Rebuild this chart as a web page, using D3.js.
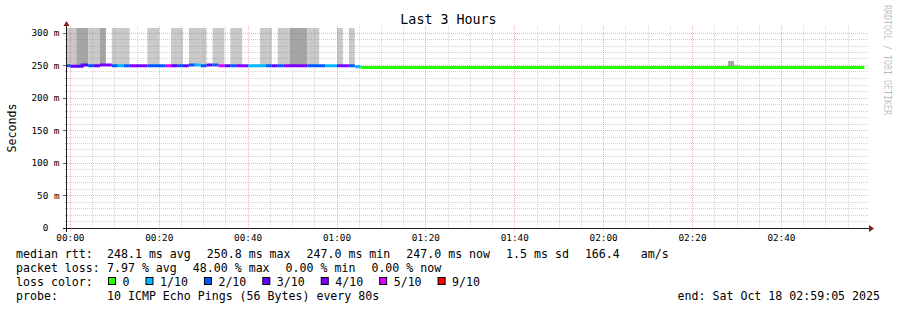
<!DOCTYPE html>
<html>
<head>
<meta charset="utf-8">
<script src="https://d3js.org/d3.v7.min.js"></script>
<style>
  body { margin: 0; background: #fff; }
  svg { display: block; font-family: "DejaVu Sans Mono", monospace; }
</style>
</head>
<body>
<script>
const title = "Last 3 Hours";
const yTitle = "Seconds";
const endLabel = "end: Sat Oct 18 02:59:05 2025";
const probeText = "10 ICMP Echo Pings (56 Bytes) every 80s";

// visible window (UTC) and the 80 s rrd step, steps counted from 00:00:00
const viewStart = Date.UTC(2025, 9, 17, 23, 59, 15);
const viewEnd = Date.UTC(2025, 9, 18, 2, 59, 15);
const midnight = Date.UTC(2025, 9, 18, 0, 0, 0);
const stepSec = 80;

// loss legend
const lossLevels = [0, 1, 2, 3, 4, 5, 9];
const lossLabels = ["0", "1/10", "2/10", "3/10", "4/10", "5/10", "9/10"];
const lossColors = ["#26ff00", "#00b8ff", "#0059ff", "#5e00ff", "#7e00ff", "#dd00ff", "#ff0000"];

// median rtt (ms) and lost pings per step, from step -1 (23:58:40) to step 48
const firstStep = -1;
const earlyMedianMs = [
  249.6, 249.0, 249.0, 250.8, 249.6, 249.6, 250.8, 250.8, 249.6, 249.6,
  249.6, 249.6, 249.6, 249.6, 249.6, 249.6, 249.6, 249.6, 249.6, 249.6,
  249.6, 250.8, 250.8, 249.6, 250.8, 250.8, 249.6, 249.6, 249.6, 249.6,
  249.6, 249.6, 249.6, 249.6, 249.6, 249.6, 249.6, 249.6, 249.6, 249.6,
  249.6, 249.6, 249.6, 249.6, 249.6, 249.6, 249.6, 249.6, 249.6, 248.2
];
const earlyLoss = [
  2, 3, 3, 3, 2, 3, 4, 4, 2, 1,
  2, 4, 4, 4, 2, 2, 2, 5, 3, 2,
  3, 2, 1, 2, 3, 2, 5, 3, 2, 4,
  4, 1, 1, 1, 2, 3, 2, 4, 4, 4,
  4, 2, 2, 2, 1, 1, 4, 4, 2, 1
];
// after the loss period: steady median, no loss
const lateFirstStep = 49;
const lateLastStep = 133;
const lateMedianMs = 247.0;
const lateLoss = 0;

// smoke: [first step, last step, low ms, high ms, density 1 light / 2 dark]
const smokeRuns = [
  [-1, 0, 250, 330, 1], [1, 2, 250, 330, 2], [3, 4, 250, 330, 1], [5, 5, 250, 330, 2],
  [7, 9, 250, 330, 1], [13, 14, 250, 330, 1], [17, 18, 250, 330, 1], [20, 22, 250, 330, 1],
  [24, 25, 250, 330, 1], [27, 28, 250, 330, 1], [32, 33, 250, 330, 1], [35, 36, 250, 330, 1],
  [37, 39, 250, 330, 2], [40, 41, 250, 330, 1], [45, 45, 250, 330, 1], [47, 47, 250, 330, 1],
  [111, 111, 247, 257, 2], [112, 112, 247, 251.2, 1]
];

const yTicks = [0, 50, 100, 150, 200, 250, 300];
const yMinorTicks = d3.range(10, 301, 10);

const statsRtt = ["median rtt:", "248.1 ms avg", "250.8 ms max", "247.0 ms min", "247.0 ms now", "1.5 ms sd", "166.4   am/s"];
const statsLoss = ["packet loss:", "7.97 % avg", "48.00 % max", "0.00 % min", "0.00 % now"];

const W = 897, H = 310;
const X0 = 67, Y0 = 228, XS = 800, YS = 200;

const svg = d3.select("body").append("svg")
  .attr("width", W)
  .attr("height", H);

svg.append("rect").attr("width", W).attr("height", H).attr("fill", "#fff");

const x = d3.scaleUtc().domain([viewStart, viewEnd]).range([X0, X0 + XS]);
const y = d3.scaleLinear().domain([0, 300]).range([Y0, Y0 - 195]);
const stepTime = k => new Date(midnight + k * stepSec * 1000);
const lossColor = l => lossColors[d3.bisectRight(lossLevels, l) - 1];
const snap = v => Math.floor(v) + 0.5;

svg.append("clipPath").attr("id", "plot")
  .append("rect").attr("x", X0).attr("y", Y0 - YS).attr("width", XS).attr("height", YS);

// smoke
const smokeFill = { 1: "#c9c9c9", 2: "#a5a5a5" };
svg.append("g").attr("clip-path", "url(#plot)")
  .selectAll("rect")
  .data(smokeRuns)
  .join("rect")
  .attr("x", d => x(stepTime(d[0])))
  .attr("width", d => x(stepTime(d[1] + 1)) - x(stepTime(d[0])))
  .attr("y", d => y(d[3]))
  .attr("height", d => y(d[2]) - y(d[3]))
  .attr("fill", d => smokeFill[d[4]]);

// grid
const gridMinor = "rgba(143,143,143,0.38)";
const gridMajor = "rgba(222,79,79,0.45)";
const grid = svg.append("g").attr("shape-rendering", "crispEdges");

const minutes = d3.utcMinute.every(5).range(new Date(viewStart), new Date(viewEnd));
minutes.forEach(t => {
  const major = t.getUTCMinutes() % 20 === 0;
  const xx = snap(x(t));
  grid.append("line")
    .attr("x1", xx).attr("x2", xx)
    .attr("y1", Y0 - YS - 2).attr("y2", Y0 + (major ? 3 : 2))
    .attr("stroke", major ? gridMajor : gridMinor)
    .attr("stroke-dasharray", "1,1");
});

yMinorTicks.forEach(v => {
  const major = v % 50 === 0;
  const yy = snap(y(v));
  grid.append("line")
    .attr("x1", X0 - 2).attr("x2", X0 + XS + 2)
    .attr("y1", yy).attr("y2", yy)
    .attr("stroke", major ? gridMajor : gridMinor)
    .attr("stroke-dasharray", "1,1");
  grid.append("line")
    .attr("x1", X0 - (major ? 4 : 2)).attr("x2", X0)
    .attr("y1", yy).attr("y2", yy)
    .attr("stroke", major ? "#666" : "#bbb");
});

// median line, one path per run of equal loss
const medianSteps = earlyMedianMs.map((ms, i) => ({ step: firstStep + i, ms, loss: earlyLoss[i] }));
const runs = [];
medianSteps.forEach(d => {
  const last = runs[runs.length - 1];
  if (last && last.loss === d.loss) last.steps.push(d);
  else runs.push({ loss: d.loss, steps: [d] });
});
runs.push({ loss: lateLoss, steps: [{ step: lateFirstStep, ms: lateMedianMs }, { step: lateLastStep, ms: lateMedianMs }] });

const line = d3.line().curve(d3.curveStepAfter);
svg.append("g").attr("clip-path", "url(#plot)")
  .selectAll("path")
  .data(runs)
  .join("path")
  .attr("d", r => {
    const pts = r.steps.map(s => [x(stepTime(s.step)), y(s.ms)]);
    const lastS = r.steps[r.steps.length - 1];
    pts.push([x(stepTime(lastS.step + 1)), y(lastS.ms)]);
    return line(pts);
  })
  .attr("fill", "none")
  .attr("stroke", r => lossColor(r.loss))
  .attr("stroke-width", 3)
  .attr("stroke-linecap", "butt");

// axes
const axisCol = "#1f1f1f", arrowCol = "#801f1f";
svg.append("line").attr("x1", X0 - 4).attr("x2", X0 + XS + 4)
  .attr("y1", Y0 + 0.5).attr("y2", Y0 + 0.5)
  .attr("stroke", axisCol).attr("shape-rendering", "crispEdges");
svg.append("line").attr("x1", X0 - 0.5).attr("x2", X0 - 0.5)
  .attr("y1", Y0 + 4).attr("y2", Y0 - YS - 4)
  .attr("stroke", axisCol).attr("shape-rendering", "crispEdges");
svg.append("path")
  .attr("d", `M${X0 + XS + 2},${Y0 - 3}L${X0 + XS + 2},${Y0 + 4}L${X0 + XS + 7},${Y0 + 0.5}Z`)
  .attr("fill", arrowCol);
svg.append("path")
  .attr("d", `M${X0 - 3.5},${Y0 - YS - 2}L${X0 + 2.5},${Y0 - YS - 2}L${X0 - 0.5},${Y0 - YS - 7}Z`)
  .attr("fill", arrowCol);

// tick labels
svg.append("g").selectAll("text")
  .data(minutes.filter(t => t.getUTCMinutes() % 20 === 0))
  .join("text")
  .attr("x", d => x(d))
  .attr("y", 241)
  .attr("text-anchor", "middle")
  .attr("font-size", "9.33px")
  .text(d3.utcFormat("%H:%M"));

svg.append("g").selectAll("text")
  .data(yTicks)
  .join("text")
  .attr("x", 59.5)
  .attr("y", d => y(d) + 3.2)
  .attr("text-anchor", "end")
  .attr("font-size", "9.33px")
  .style("white-space", "pre")
  .text(d => d === 0 ? "0  " : `${d} m`);

// titles
svg.append("text")
  .attr("x", 448.5).attr("y", 24)
  .attr("text-anchor", "middle")
  .attr("font-size", "13.33px")
  .text(title);

svg.append("text")
  .attr("transform", "translate(15.5,128) rotate(-90)")
  .attr("text-anchor", "middle")
  .attr("font-size", "11.6px")
  .text(yTitle);

svg.append("text")
  .attr("transform", "translate(883.5,5) rotate(90)")
  .attr("font-size", "10.5px")
  .attr("fill", "#000")
  .attr("fill-opacity", 0.28)
  .attr("textLength", 110)
  .attr("lengthAdjust", "spacingAndGlyphs")
  .text("RRDTOOL / TOBI OETIKER");

// legend
const legendFont = "11.6px";
const valueCol = 107, gap = 16;

function statRow(items, baseline) {
  svg.append("text").attr("x", 16).attr("y", baseline).attr("font-size", legendFont).text(items[0]);
  let xx = valueCol;
  items.slice(1).forEach(s => {
    const t = svg.append("text").attr("x", xx).attr("y", baseline)
      .attr("font-size", legendFont).style("white-space", "pre").text(s);
    xx += t.node().getComputedTextLength() + gap;
  });
}
statRow(statsRtt, 258);
statRow(statsLoss, 272);

svg.append("text").attr("x", 16).attr("y", 286).attr("font-size", legendFont).text("loss color:");
let bx = valueCol + 1;
lossLabels.forEach((lab, i) => {
  svg.append("rect")
    .attr("x", bx + 0.5).attr("y", 277.5)
    .attr("width", 7).attr("height", 7)
    .attr("fill", lossColors[i])
    .attr("stroke", "#000");
  const t = svg.append("text").attr("x", bx + 14.5).attr("y", 286)
    .attr("font-size", legendFont).text(lab);
  bx += 14.5 + t.node().getComputedTextLength() + gap;
});

svg.append("text").attr("x", 16).attr("y", 300).attr("font-size", legendFont).text("probe:");
svg.append("text").attr("x", valueCol).attr("y", 300).attr("font-size", legendFont).text(probeText);
svg.append("text").attr("x", 880).attr("y", 300).attr("text-anchor", "end")
  .attr("font-size", legendFont).text(endLabel);
</script>
</body>
</html>
